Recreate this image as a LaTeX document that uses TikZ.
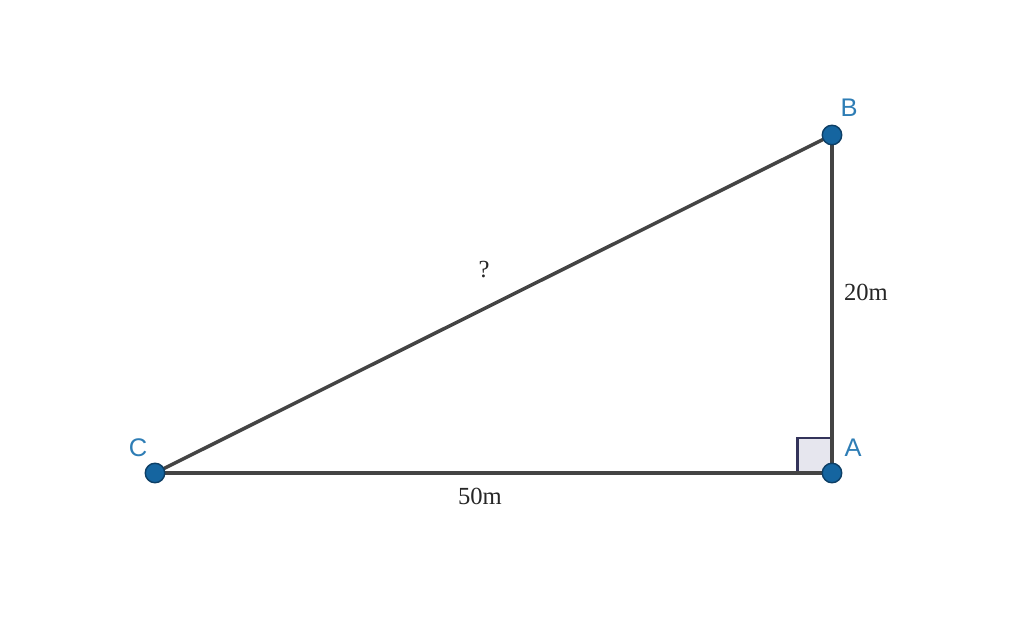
\documentclass[tikz,border=0pt]{standalone}
\usepackage{fontspec}
\setmainfont{Liberation Serif}
\newfontfamily\lblfont{Liberation Sans}
\usetikzlibrary{positioning}

\definecolor{edgegrey}{HTML}{444444}
\definecolor{ptblue}{HTML}{1565A0}
\definecolor{ptborder}{HTML}{0D3F66}
\definecolor{lblblue}{HTML}{2E7DB5}
\definecolor{angfill}{HTML}{E6E6EE}
\definecolor{angborder}{HTML}{33335A}

\tikzset{
  side/.style={draw=edgegrey, line width=2pt},
  pt/.style={circle, fill=ptblue, draw=ptborder, line width=0.8pt, minimum size=0.39cm, inner sep=0pt},
  ptlabel/.style={text=lblblue, font=\lblfont\fontsize{14.5}{17}\selectfont, inner sep=0pt},
  lenlabel/.style={text=black!85, font=\fontsize{14}{16}\selectfont, inner sep=0pt},
  rightang/.style={draw=angborder, fill=angfill, line width=1.7pt}
}

\begin{document}
\begin{tikzpicture}[x=0.02cm, y=-0.02cm]
        \useasboundingbox (0,0) rectangle (1024,634);
        % Define vertices
        \coordinate (C) at (155,473);
        \coordinate (A) at (832,473);
        \coordinate (B) at (832,135);
        % Right angle mark
        \draw[rightang] (A) rectangle ++(-35,-35);
        % Connect vertices
        \draw[side] (C) -- (A);
        \draw[side] (A) -- (B);
        \draw[side] (B) -- (C);
        % Points
        \node[pt] (ptA) at (A) {};
        \node[pt] (ptB) at (B) {};
        \node[pt] (ptC) at (C) {};
        % Labels
        \node[ptlabel] (labA) at (853,448) {A};
        \node[ptlabel] (labB) at (849,108) {B};
        \node[ptlabel] (labC) at (138,448) {C};
        \node[lenlabel] (hyp) at (484,270) {?};
        \node[lenlabel] (lenAB) at (866,292) {20m};
        \node[lenlabel] (lenCA) at (480,496) {50m};
    \end{tikzpicture}
\end{document}
